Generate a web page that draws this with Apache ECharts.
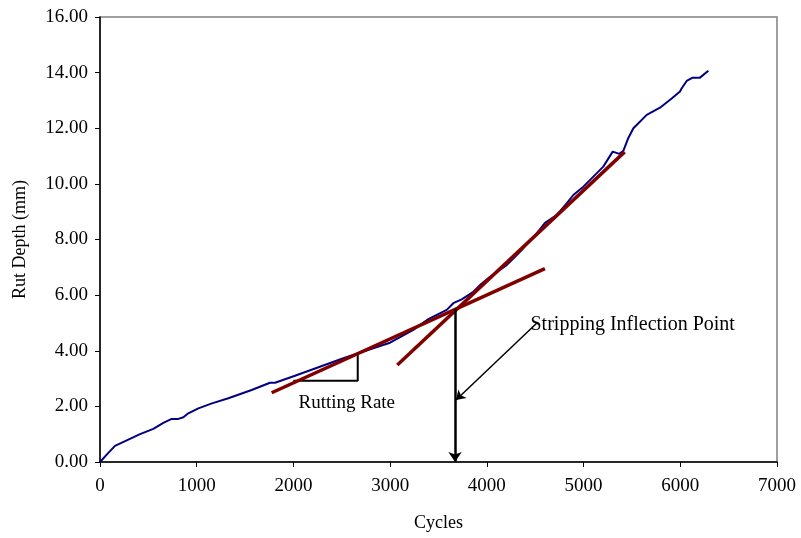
<!DOCTYPE html>
<html>
<head>
<meta charset="utf-8">
<script src="https://cdn.jsdelivr.net/npm/echarts@6/dist/echarts.min.js"></script>
<style>
  html, body { margin: 0; padding: 0; background: #fff; }
  #chart { width: 801px; height: 538px; }
</style>
</head>
<body>
<div id="chart"></div>
<script>
// measured rut depth curve
const cycles = [0, 86, 155, 414, 551, 655, 741, 810, 862, 913, 1017, 1150, 1327, 1568, 1758, 1810, 2016, 2516, 2895, 2999, 3240, 3395, 3585, 3653, 3740, 3860, 3929, 4033, 4205, 4343, 4515, 4601, 4722, 4825, 4894, 4998, 5101, 5204, 5301, 5370, 5411, 5463, 5515, 5653, 5790, 5911, 5997, 6015, 6066, 6128, 6204, 6290];
const rutDepth = [0, 0.33, 0.58, 1.0, 1.19, 1.41, 1.55, 1.55, 1.61, 1.75, 1.93, 2.1, 2.29, 2.59, 2.85, 2.85, 3.10, 3.73, 4.17, 4.29, 4.75, 5.14, 5.47, 5.71, 5.85, 6.12, 6.36, 6.66, 7.08, 7.56, 8.22, 8.60, 8.88, 9.30, 9.60, 9.90, 10.26, 10.62, 11.16, 11.08, 11.19, 11.65, 12.0, 12.48, 12.74, 13.07, 13.32, 13.44, 13.70, 13.82, 13.82, 14.07];

// fitted lines (start / end)
const creepLine = [[1775, 2.49], [4600, 6.95]];
const strippingLine = [[3074, 3.49], [5425, 11.15]];
// slope triangle
const slopeTriangle = [[1999, 2.92], [2665, 2.92], [2665, 3.91]];
// arrows
const inflectionArrow = [[3671, 5.52], [3671, 0]];
const pointerArrow = [[4515, 4.99], [3681, 2.23]];

// annotation text anchors (left-middle of text)
const rateLabel = ['Rutting Rate', 2047, 2.12];
const inflectionLabel = ['Stripping Inflection Point', 4446, 4.93];

const xTicks = [0, 7000, 1000];
const yTicks = [0, 16, 2];

const chart = echarts.init(document.getElementById('chart'));
const font = 'Liberation Serif';

chart.setOption({
  animation: false,
  grid: {
    left: 100, right: 24, top: 17, bottom: 76,
    show: true, borderColor: '#808080', borderWidth: 1.5,
    outerBoundsMode: 'none',
  },
  xAxis: {
    type: 'value',
    min: xTicks[0], max: xTicks[1], interval: xTicks[2],
    name: 'Cycles',
    nameLocation: 'middle',
    nameGap: 52,
    nameTextStyle: { fontFamily: font, fontSize: 18, color: '#000' },
    axisLine: { lineStyle: { color: '#000', width: 1.5 } },
    axisTick: { show: true, length: 5, lineStyle: { color: '#000' } },
    axisLabel: {
      fontFamily: font, fontSize: 19, color: '#000', margin: 15,
      formatter: (v) => String(v),
    },
    splitLine: { show: false },
  },
  yAxis: {
    type: 'value',
    min: yTicks[0], max: yTicks[1], interval: yTicks[2],
    name: 'Rut Depth (mm)',
    nameLocation: 'middle',
    nameGap: 71,
    nameTextStyle: { fontFamily: font, fontSize: 18, color: '#000' },
    axisLine: { lineStyle: { color: '#000', width: 1.5 } },
    axisTick: { show: true, length: 5, lineStyle: { color: '#000' } },
    axisLabel: {
      fontFamily: font, fontSize: 19, color: '#000', margin: 12,
      formatter: (v) => v.toFixed(2),
    },
    splitLine: { show: false },
  },
  series: [
    {
      type: 'line',
      data: cycles.map((c, i) => [c, rutDepth[i]]),
      showSymbol: false,
      lineStyle: { color: '#000080', width: 2 },
      z: 3,
    },
    {
      type: 'line',
      data: creepLine,
      showSymbol: false,
      lineStyle: { color: '#800000', width: 3.5 },
      z: 4,
    },
    {
      type: 'line',
      data: strippingLine,
      showSymbol: false,
      lineStyle: { color: '#800000', width: 3.5 },
      z: 4,
    },
    {
      type: 'line',
      data: slopeTriangle,
      showSymbol: false,
      lineStyle: { color: '#000', width: 2 },
      z: 2,
    },
    {
      type: 'lines',
      coordinateSystem: 'cartesian2d',
      symbol: ['none', 'arrow'],
      symbolSize: 10,
      lineStyle: { color: '#000', width: 2.5, opacity: 1 },
      data: [{ coords: inflectionArrow }],
      z: 5,
    },
    {
      type: 'lines',
      coordinateSystem: 'cartesian2d',
      symbol: ['none', 'arrow'],
      symbolSize: 9,
      lineStyle: { color: '#000', width: 1.5, opacity: 1 },
      data: [{ coords: pointerArrow }],
      z: 5,
    },
    {
      type: 'scatter',
      symbolSize: 1,
      itemStyle: { color: 'rgba(0,0,0,0)' },
      label: {
        show: true,
        position: 'right',
        distance: 0,
        fontFamily: font,
        color: '#000',
        opacity: 1,
        formatter: (p) => p.value[2],
      },
      data: [
        { value: [rateLabel[1], rateLabel[2], rateLabel[0]], label: { fontSize: 19 } },
        { value: [inflectionLabel[1], inflectionLabel[2], inflectionLabel[0]], label: { fontSize: 20 } },
      ],
      z: 6,
    },
  ],
});
</script>
</body>
</html>
